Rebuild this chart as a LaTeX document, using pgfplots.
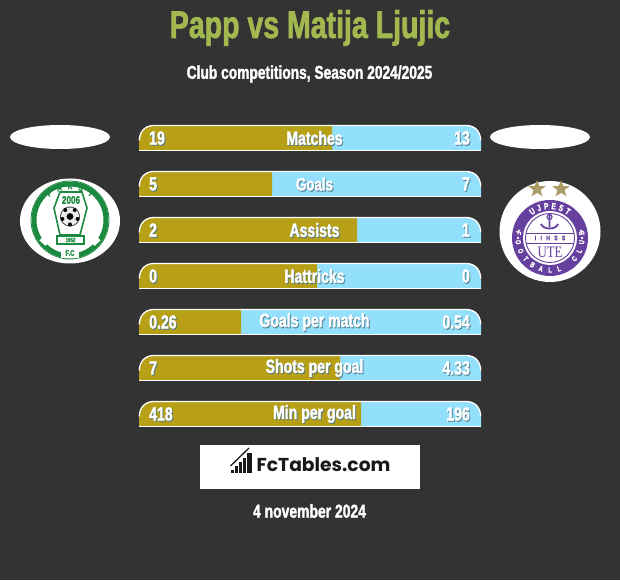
\documentclass[border=0pt]{standalone}
\usepackage{fontspec}
\setmainfont{Liberation Sans}[FakeStretch=0.74,BoldFeatures={FakeBold=1.6}]
\newfontfamily\popp{Poppins}
\newfontfamily\serifx{Liberation Serif}
\usepackage{pgfplots}
\pgfplotsset{compat=1.18}
\usepackage{pgfplotstable}
\usetikzlibrary{shapes.geometric}
\definecolor{bg}{HTML}{333333}
\definecolor{olive}{HTML}{B8A016}
\definecolor{sky}{HTML}{92E0FC}
\definecolor{ttl}{HTML}{A3B950}
\definecolor{paks}{HTML}{1B8A40}
\definecolor{ute}{HTML}{65409F}
\definecolor{gold}{HTML}{AC9A66}
% row centre (pixels from top), left offset, olive width, blue width
\pgfplotstableread{
y off left right
138 139 193 149
184 139 133 209
230 139 218 124
276 139 178 164
322 139 102 240
368 139 201 141
414 139 222 120
}\bars
\newcommand{\lbl}[5]{% anchor,x,y,size,text
  \node[anchor=#1,inner sep=0pt,text=black!45!sky,opacity=.8] at (#2+1,#3+1.2) {\bfseries\fontsize{#4}{#4}\selectfont #5};
  \node[anchor=#1,inner sep=0pt,text=white] at (#2,#3) {\bfseries\fontsize{#4}{#4}\selectfont #5};}
\begin{document}
\begin{tikzpicture}[x=1pt,y=1pt]
\fill[bg] (0,0) rectangle (620,580);
\begin{axis}[at={(0,0)},anchor=south west,scale only axis,width=620pt,height=580pt,
  xmin=0,xmax=620,ymin=0,ymax=580,y dir=reverse,hide axis,
  xbar stacked,bar width=25pt,clip=false]
\addplot[draw=none,fill=none] table[x=off,y=y] {\bars};
\addplot[draw=none,fill=olive] table[x=left,y=y] {\bars};
\addplot[draw=none,fill=sky] table[x=right,y=y] {\bars};
\end{axis}
\begin{scope}[x=1pt,y=-1pt,yshift=580pt]
% bar corners and outlines
\foreach \y in {125.5,171.5,217.5,263.5,309.5,355.5,401.5}{
  \fill[bg] (137,\y-1.5) -- (154,\y-1.5) -- (154,\y) .. controls (145,\y) and (139.5,\y+6) .. (139.5,\y+15) -- (137,\y+15) -- cycle;
  \fill[bg] (483,\y-1.5) -- (466,\y-1.5) -- (466,\y) .. controls (475,\y) and (480.5,\y+6) .. (480.5,\y+15) -- (483,\y+15) -- cycle;
  \draw[white,line width=1.3pt] (139.3,\y+15) .. controls (139.5,\y+6) and (145,\y) .. (154,\y) -- (466,\y) .. controls (475,\y) and (480.5,\y+6) .. (480.7,\y+15);
  \draw[white,line width=1.3pt] (139,\y+25) -- (481,\y+25);
}
% titles
\node[text=ttl,inner sep=0pt] at (310,28) {\bfseries\fontsize{38.5}{38}\selectfont Papp vs Matija Ljujic};
\node[text=white,inner sep=0pt] at (309.5,74) {\bfseries\fontsize{18.6}{19}\selectfont Club competitions, Season 2024/2025};
% bar labels
\lbl{center}{314.5}{138}{19}{Matches}
\lbl{center}{314.5}{184}{18}{Goals}
\lbl{center}{314.5}{230}{19}{Assists}
\lbl{center}{314.5}{276}{19}{Hattricks}
\lbl{center}{314.5}{322}{19}{Goals per match}
\lbl{center}{314.5}{368}{19}{Shots per goal}
\lbl{center}{314.5}{414}{19}{Min per goal}
\lbl{west}{149}{138}{19}{19}\lbl{east}{470}{138}{19}{13}
\lbl{west}{149}{184}{19}{5}\lbl{east}{470}{184}{19}{7}
\lbl{west}{149}{230}{19}{2}\lbl{east}{470}{230}{19}{1}
\lbl{west}{149}{276}{19}{0}\lbl{east}{470}{276}{19}{0}
\lbl{west}{149}{322}{19}{0.26}\lbl{east}{470}{322}{19}{0.54}
\lbl{west}{149}{368}{19}{7}\lbl{east}{470}{368}{19}{4.33}
\lbl{west}{149}{414}{19}{418}\lbl{east}{470}{414}{19}{196}
% ovals
\fill[white] (60,137) ellipse [x radius=50,y radius=12];
\fill[white] (540,137) ellipse [x radius=50,y radius=12];
% left crest
\fill[white] (70,221) ellipse [x radius=50,y radius=42.5];
\draw[paks,line width=5pt] (70,220) circle (36);
\draw[white,line width=8pt] (70,220) ++(40:36) arc[start angle=-40,end angle=-140,radius=36];
\draw[paks,line width=.8pt] (70,220) circle (39);
\begin{scope}[shift={(70,220)}]
\foreach \c [count=\i] in {P,A,K,S,I}{
  \pgfmathsetmacro\a{90+(3-\i)*19}
  \node[text=paks,rotate=\a-90,inner sep=0pt] at (\a:34pt) {\bfseries\fontsize{9}{9}\selectfont\c};}
\fill[white] (-9pt,-30pt) rectangle (9pt,-38pt);
\node[text=paks,inner sep=0pt] at (0pt,-33pt) {\bfseries\fontsize{8}{8}\selectfont F.C};
\end{scope}
\fill[white] (60,192) -- (82,192) -- (87,208) -- (80,235) -- (60,235) -- (54,208) -- cycle;
\draw[paks,line width=1.6pt] (60,192) -- (82,192) -- (87,208) -- (80,235) -- (60,235) -- (54,208) -- cycle;
\draw[paks,line width=1.3pt,fill=white] (57,236) rectangle (84,244);
\node[text=paks,inner sep=0pt] at (71,200) {\bfseries\fontsize{11}{11}\selectfont 2006};
\node[text=paks,inner sep=0pt] at (70.5,240) {\bfseries\fontsize{6}{6}\selectfont 1952};
\fill[black!70] (70,216.5) circle (10);
\fill[white!92!black] (70,216.5) circle (9);
\fill[black] (70,216.5) circle (3.4);
\foreach \a in {0,72,144,216,288}{\fill[black] (70,216.5) ++(\a+90:8) circle (2);}
% right crest
\fill[white] (550,231.5) circle (50.5);
\node[star,star points=5,star point ratio=2.4,fill=gold,minimum size=18pt,inner sep=0pt] at (537,189) {};
\node[star,star points=5,star point ratio=2.4,fill=gold,minimum size=18pt,inner sep=0pt] at (561,189) {};
\fill[ute] (550,238) circle (38);
\fill[white] (550,238) circle (27);
\draw[ute,line width=.9pt] (550,238) circle (24.5);
\begin{scope}[shift={(550,238)}]
\foreach \c [count=\i] in {U,J,P,E,S,T}{
  \pgfmathsetmacro\a{90+(3.5-\i)*13.5}
  \node[text=white,rotate=\a-90,inner sep=0pt] at (\a:32pt) {\bfseries\fontsize{9}{9}\selectfont\c};}
\foreach \c [count=\i] in {F,O,O,T,B,A,L,L}{
  \pgfmathsetmacro\a{270-(7-\i)*16.5}
  \node[text=white,rotate=\a+90,inner sep=0pt] at (\a:32pt) {\bfseries\fontsize{7.5}{7.5}\selectfont\c};}
\foreach \c [count=\i] in {C,L,U,B}{
  \pgfmathsetmacro\a{270-(7-\i-9)*16.5}
  \node[text=white,rotate=\a+90,inner sep=0pt] at (\a:32pt) {\bfseries\fontsize{7.5}{7.5}\selectfont\c};}
\foreach \a in {13,0,167,180}{\fill[white] (\a:32pt) circle (1.3pt);}
\end{scope}
\draw[ute,line width=.9pt] (526,233) -- (574,233) (526,243) -- (574,243);
\node[text=ute,inner sep=0pt] at (550,238) {\bfseries\fontsize{6.5}{6.5}\selectfont I\,$\cdot$\,I\,$\cdot$\,H\,$\cdot$\,S\,$\cdot$\,S};
\draw[ute,line width=1.8pt] (549.5,214) -- (549.5,227) (541,224) .. controls (543,230) and (556,230) .. (558,224);
\draw[ute,line width=1.1pt] (549.5,217) circle (2.5);
\node[text=ute,inner sep=0pt,xscale=.8] at (550,252) {\serifx\fontsize{16}{16}\selectfont UTE};
% brand box
\fill[white] (200,445) rectangle (420,489);
\foreach \x/\t in {230.5/470,234.5/466,238.5/462,242.5/458}{\fill[black!90] (\x,\t) rectangle (\x+3.2,473);}
\fill[black!90] (247,453) rectangle (251.5,473);
\draw[black!90,line width=1.3pt] (230.5,466) -- (249,448);
\node[anchor=west,inner sep=0pt,text=black!90] at (256.5,464.5) {\popp\bfseries\fontsize{18.7}{20}\selectfont FcTables.com};
\node[text=white,inner sep=0pt] at (309.5,511) {\bfseries\fontsize{18.8}{19}\selectfont 4 november 2024};
\end{scope}
\end{tikzpicture}
\end{document}
